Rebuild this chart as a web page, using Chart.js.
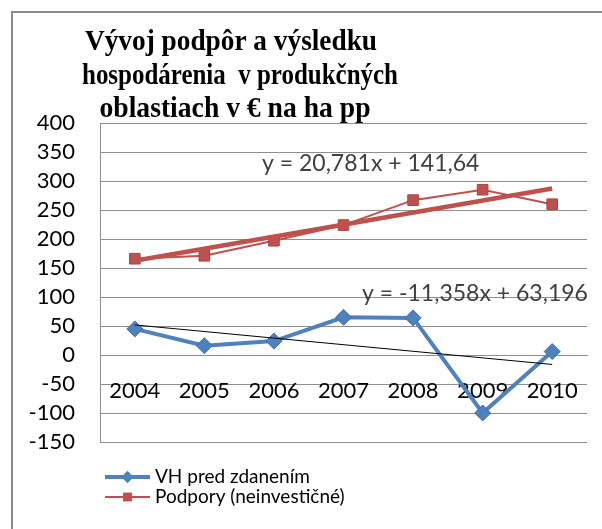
<!doctype html>
<html lang="sk">
  <head>
    <meta charset="utf-8">
    <title>Vývoj podpôr a výsledku hospodárenia</title>
    <style>
      * {
        margin: 0;
        padding: 0;
      }
      body {
        background: #fff;
        width: 602px;
        height: 529px;
        overflow: hidden;
        position: relative;
      }
      .frame {
        position: absolute;
        left: 11px;
        top: 11px;
        width: 620px;
        height: 560px;
        border: 2px solid #8c8c8c;
      }
      .chartBox {
        position: absolute;
        left: 0;
        top: 0;
      }
    </style>
  </head>
  <body>
    <div class="frame"></div>
    <div class="chartBox">
      <canvas id="myChart" width="602" height="529"></canvas>
    </div>
    <script src="https://cdn.jsdelivr.net/npm/chart.js/dist/chart.umd.min.js"></script>
    <script>
    // data
    const years = ['2004', '2005', '2006', '2007', '2008', '2009', '2010'];
    const vhValues = [45, 16, 24, 65, 64, -100, 6];
    const podporyValues = [166, 171, 197, 224, 267, 285, 260];
    // linear trendlines, value at 2004 and at 2010
    const vhTrendEnds = [51.84, -16.31];
    const podporyTrendEnds = [162.42, 287.11];
    const vhTrendLabel = 'y = -11,358x + 63,196';
    const podporyTrendLabel = 'y = 20,781x + 141,64';
    const titleLines = ['Vývoj podpôr a výsledku', 'hospodárenia  v produkčných', 'oblastiach v € na ha pp'];
    const yMin = -150;
    const yMax = 400;
    const yStep = 50;

    const blue = '#4F81BD';
    const red = '#C0504D';
    const gridColor = '#8e8e8e';
    const sans = 'Lato';

    function trendPoints(ends) {
      return [
        { x: years[0], y: ends[0] },
        { x: years[years.length - 1], y: ends[1] }
      ];
    }

    const data = {
      labels: years,
      datasets: [{
        label: 'VH pred zdanením',
        data: vhValues,
        borderColor: blue,
        backgroundColor: blue,
        borderWidth: 4,
        pointStyle: 'rectRot',
        pointRadius: 8,
        pointBorderWidth: 1,
        pointBorderColor: '#3f6fa8',
        order: 2
      }, {
        label: 'Podpory (neinvestičné)',
        data: podporyValues,
        borderColor: red,
        backgroundColor: red,
        borderWidth: 2,
        pointStyle: 'rect',
        pointRadius: 7.5,
        pointBorderWidth: 1,
        pointBorderColor: '#a84441',
        order: 2
      }, {
        label: 'trend VH',
        data: trendPoints(vhTrendEnds),
        borderColor: '#000',
        borderWidth: 1,
        pointRadius: 0,
        order: 1
      }, {
        label: 'trend podpory',
        data: trendPoints(podporyTrendEnds),
        borderColor: red,
        borderWidth: 4.5,
        pointRadius: 0,
        order: 1
      }]
    };

    // title drawn by hand so it can overlap the plot like in the original
    // (the original serif face is narrower, so each line is squeezed to its width)
    const titleBlock = {
      id: 'titleBlock',
      afterDraw(chart) {
        const { ctx } = chart;
        const widths = [292, 316, 271];
        const centers = [231, 240, 235];
        ctx.save();
        ctx.font = 'bold 30px "Liberation Serif"';
        ctx.fillStyle = '#000';
        ctx.textAlign = 'center';
        ctx.textBaseline = 'alphabetic';
        titleLines.forEach((line, i) => {
          const w = ctx.measureText(line).width;
          ctx.save();
          ctx.translate(centers[i], 50 + i * 33.5);
          ctx.scale(widths[i] / w, 1);
          ctx.fillText(line, 0, 0);
          ctx.restore();
        });
        ctx.restore();
      }
    };

    // trendline equations
    const trendLabels = {
      id: 'trendLabels',
      afterDatasetsDraw(chart) {
        const { ctx, scales: { y } } = chart;
        ctx.save();
        ctx.font = '23px ' + sans;
        ctx.fillStyle = '#404040';
        ctx.textAlign = 'left';
        ctx.textBaseline = 'middle';
        ctx.fillText(podporyTrendLabel, 262, y.getPixelForValue(330));
        ctx.fillText(vhTrendLabel, 362, y.getPixelForValue(106));
        ctx.restore();
      }
    };

    // vertical legend, bottom left
    const sideLegend = {
      id: 'sideLegend',
      afterDraw(chart) {
        const { ctx } = chart;
        const rows = chart.data.datasets.slice(0, 2);
        ctx.save();
        ctx.font = '19px ' + sans;
        ctx.textBaseline = 'middle';
        ctx.textAlign = 'left';
        rows.forEach((ds, i) => {
          const cy = 477 + i * 20;
          ctx.strokeStyle = ds.borderColor;
          ctx.lineWidth = ds.borderWidth;
          ctx.beginPath();
          ctx.moveTo(105, cy);
          ctx.lineTo(150, cy);
          ctx.stroke();
          ctx.fillStyle = ds.backgroundColor;
          Chart.helpers.drawPoint(ctx, {
            pointStyle: ds.pointStyle,
            radius: 6,
            rotation: 0,
            borderWidth: 0
          }, 127.5, cy);
          ctx.fill();
          ctx.fillStyle = '#000';
          ctx.fillText(ds.label, 155, cy);
        });
        ctx.restore();
      }
    };

    const config = {
      type: 'line',
      data,
      options: {
        responsive: false,
        animation: false,
        layout: {
          padding: { left: 0, right: 15, top: 123, bottom: 87 }
        },
        scales: {
          x: {
            type: 'category',
            position: { y: 0 },
            offset: true,
            grid: { display: false },
            border: { display: true, color: gridColor, width: 1 },
            ticks: {
              color: '#000',
              padding: 15,
              font: { family: sans, size: 22 }
            }
          },
          y: {
            min: yMin,
            max: yMax,
            ticks: {
              stepSize: yStep,
              autoSkip: false,
              color: '#000',
              padding: 25,
              font: { family: sans, size: 22 }
            },
            grid: { color: gridColor, drawTicks: false },
            border: { display: true, color: gridColor },
            afterFit(scale) {
              scale.width = 100;
            }
          }
        },
        plugins: {
          legend: { display: false },
          title: { display: false },
          tooltip: { enabled: false }
        }
      },
      plugins: [titleBlock, trendLabels, sideLegend]
    };

    const myChart = new Chart(
      document.getElementById('myChart'),
      config
    );
    </script>
  </body>
</html>
